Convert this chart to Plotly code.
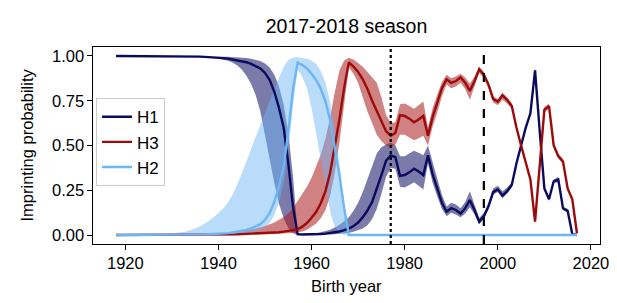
import plotly.graph_objects as go

years = list(range(1918, 2018))

h1 = ([1.0] * 13 +
      [0.999, 0.999, 0.998, 0.998, 0.997, 0.996, 0.995, 0.994, 0.992, 0.99,      # 1931-1940
       0.988, 0.985, 0.981, 0.977, 0.972, 0.965, 0.956, 0.945, 0.93, 0.905,      # 1941-1950
       0.865, 0.80, 0.71, 0.60, 0.40, 0.16, 0.005, 0.003, 0.003, 0.004,          # 1951-1960
       0.005, 0.006, 0.008, 0.011, 0.015, 0.02, 0.027, 0.036, 0.05, 0.07,        # 1961-1970
       0.10, 0.137, 0.185, 0.255, 0.335, 0.415, 0.445, 0.435, 0.33, 0.335,      # 1971-1980
       0.35, 0.37, 0.355, 0.335, 0.445, 0.34, 0.26, 0.18, 0.13, 0.15,            # 1981-1990
       0.14, 0.12, 0.15, 0.195, 0.14, 0.075, 0.105, 0.16, 0.24, 0.255,           # 1991-2000
       0.22, 0.245, 0.28, 0.40, 0.50, 0.60, 0.68, 0.92, 0.58, 0.26,              # 2001-2010
       0.20, 0.30, 0.31, 0.15, 0.135, 0.005, 0.0])                               # 2011-2017
h1_lo = ([1.0] * 13 +
         [0.999, 0.999, 0.998, 0.998, 0.997, 0.995, 0.993, 0.991, 0.988, 0.985,
          0.98, 0.973, 0.963, 0.948, 0.925, 0.89, 0.845, 0.78, 0.69, 0.57,
          0.43, 0.29, 0.175, 0.095, 0.04, 0.012, 0.0, 0.0005, 0.0005, 0.0008,
          0.001, 0.0015, 0.002, 0.003, 0.004, 0.006, 0.009, 0.013, 0.018, 0.025,
          0.036, 0.055, 0.09, 0.145, 0.23, 0.325, 0.375, 0.37, 0.27, 0.265,
          0.28, 0.295, 0.275, 0.255, 0.40, 0.29, 0.215, 0.145, 0.105, 0.125,
          0.115, 0.10, 0.12, 0.155, 0.115, 0.06, 0.09, 0.145, 0.225, 0.24,
          0.205, 0.23, 0.265, 0.39, 0.49, 0.59, 0.67, 0.905, 0.57, 0.25,
          0.19, 0.29, 0.295, 0.14, 0.125, 0.0, 0.0])
h1_hi = ([1.0] * 13 +
         [0.999, 0.999, 0.998, 0.998, 0.998, 0.998, 0.998, 0.998, 0.997, 0.997,
          0.996, 0.995, 0.994, 0.993, 0.991, 0.989, 0.985, 0.98, 0.972, 0.958,
          0.935, 0.895, 0.83, 0.73, 0.57, 0.33, 0.012, 0.006, 0.007, 0.009,
          0.012, 0.016, 0.022, 0.03, 0.042, 0.057, 0.077, 0.10, 0.135, 0.18,
          0.24, 0.31, 0.385, 0.455, 0.49, 0.505, 0.515, 0.50, 0.44, 0.44,
          0.455, 0.47, 0.46, 0.445, 0.50, 0.40, 0.315, 0.225, 0.16, 0.18,
          0.17, 0.15, 0.185, 0.245, 0.17, 0.095, 0.125, 0.18, 0.26, 0.275,
          0.245, 0.265, 0.295, 0.41, 0.51, 0.61, 0.69, 0.935, 0.59, 0.27,
          0.21, 0.31, 0.325, 0.16, 0.145, 0.01, 0.0])

h3 = ([0.0] * 18 +
      [0.001, 0.001, 0.0015, 0.002, 0.002,                                         # 1936-1940
       0.0025, 0.003, 0.0035, 0.004, 0.005, 0.006, 0.007, 0.008, 0.009, 0.01,    # 1941-1950
       0.012, 0.014, 0.016, 0.019, 0.022, 0.026, 0.032, 0.047, 0.067, 0.096,     # 1951-1960
       0.13, 0.179, 0.247, 0.35, 0.495, 0.65, 0.823, 0.964, 0.94, 0.91,          # 1961-1970
       0.87, 0.815, 0.75, 0.695, 0.64, 0.58, 0.555, 0.57, 0.67, 0.665,           # 1971-1980
       0.65, 0.63, 0.645, 0.665, 0.555, 0.66, 0.74, 0.82, 0.87, 0.85,            # 1981-1990
       0.86, 0.88, 0.85, 0.805, 0.86, 0.925, 0.895, 0.84, 0.76, 0.745,           # 1991-2000
       0.78, 0.755, 0.72, 0.60, 0.50, 0.40, 0.31, 0.075, 0.40, 0.70,             # 2001-2010
       0.72, 0.50, 0.44, 0.41, 0.26, 0.20, 0.01])                                # 2011-2017
h3_lo = ([0.0] * 18 +
         [0.0005, 0.0005, 0.0008, 0.001, 0.001,
          0.0012, 0.0014, 0.0016, 0.0018, 0.002, 0.0025, 0.003, 0.0035, 0.004, 0.004,
          0.005, 0.006, 0.007, 0.008, 0.01, 0.012, 0.015, 0.02, 0.03, 0.045,
          0.065, 0.095, 0.14, 0.22, 0.35, 0.52, 0.73, 0.935, 0.90, 0.85,
          0.77, 0.69, 0.625, 0.56, 0.525, 0.50, 0.49, 0.505, 0.56, 0.56,
          0.545, 0.53, 0.54, 0.555, 0.50, 0.605, 0.685, 0.775, 0.84, 0.82,
          0.83, 0.85, 0.815, 0.755, 0.83, 0.905, 0.875, 0.82, 0.74, 0.725,
          0.755, 0.735, 0.705, 0.59, 0.49, 0.39, 0.30, 0.065, 0.39, 0.685,
          0.705, 0.49, 0.43, 0.40, 0.25, 0.19, 0.0])
h3_hi = ([0.0] * 18 +
         [0.002, 0.003, 0.004, 0.005, 0.006,
          0.008, 0.01, 0.013, 0.016, 0.02, 0.025, 0.031, 0.037, 0.043, 0.05,
          0.06, 0.07, 0.085, 0.10, 0.12, 0.15, 0.19, 0.23, 0.27, 0.32,
          0.38, 0.45, 0.54, 0.66, 0.80, 0.92, 0.975, 0.99, 0.98, 0.96,
          0.94, 0.91, 0.88, 0.85, 0.77, 0.67, 0.625, 0.63, 0.73, 0.735,
          0.72, 0.705, 0.725, 0.745, 0.60, 0.71, 0.785, 0.855, 0.895, 0.875,
          0.885, 0.90, 0.88, 0.845, 0.885, 0.94, 0.91, 0.855, 0.775, 0.76,
          0.795, 0.77, 0.735, 0.61, 0.51, 0.41, 0.32, 0.09, 0.41, 0.715,
          0.735, 0.51, 0.455, 0.425, 0.27, 0.21, 0.02])

h2 = ([0.0] * 12 +
      [0.0005, 0.0007, 0.001, 0.0013, 0.0017, 0.002, 0.003, 0.0035, 0.0045, 0.0055,  # 1930-1939
       0.007, 0.0085, 0.011, 0.014, 0.018, 0.023, 0.029, 0.037, 0.047, 0.061,        # 1940-1949
       0.085, 0.123, 0.186, 0.274, 0.381, 0.578, 0.814, 0.963, 0.95, 0.93,           # 1950-1959
       0.90, 0.865, 0.815, 0.745, 0.639, 0.49, 0.33, 0.15, 0.0] +                    # 1960-1968
      [0.0] * 49)
h2_lo = ([0.0] * 12 +
         [0.0002, 0.0003, 0.0004, 0.0005, 0.0007, 0.0008, 0.001, 0.0013, 0.0016, 0.002,
          0.002, 0.003, 0.004, 0.005, 0.007, 0.009, 0.012, 0.016, 0.022, 0.03,
          0.044, 0.068, 0.11, 0.18, 0.29, 0.47, 0.72, 0.925, 0.885, 0.82,
          0.71, 0.57, 0.42, 0.27, 0.13, 0.045, 0.012, 0.0, 0.0] +
         [0.0] * 49)
h2_hi = ([0.0] * 8 +
         [0.002, 0.003, 0.004, 0.006,
          0.008, 0.011, 0.015, 0.02, 0.027, 0.036, 0.048, 0.062, 0.08, 0.10,
          0.122, 0.148, 0.18, 0.225, 0.28, 0.34, 0.41, 0.48, 0.55, 0.62,
          0.685, 0.75, 0.815, 0.88, 0.94, 0.978, 0.99, 0.993, 0.99, 0.985,
          0.975, 0.955, 0.915, 0.85, 0.74, 0.58, 0.39, 0.17, 0.0] +
         [0.0] * 49)

ref_dotted = 1977
ref_dashed = 1997
x_ticks = [1920, 1940, 1960, 1980, 2000, 2020]
y_ticks = [0.0, 0.25, 0.5, 0.75, 1.0]

for arr in (h1, h1_lo, h1_hi, h3, h3_lo, h3_hi, h2, h2_lo, h2_hi):
    assert len(arr) == len(years), len(arr)

series = [
    ("H1", h1, h1_lo, h1_hi, "#0b0b5e", "rgba(14,14,100,0.55)"),
    ("H3", h3, h3_lo, h3_hi, "#9c0a0a", "rgba(170,25,25,0.55)"),
    ("H2", h2, h2_lo, h2_hi, "#6cb6f5", "rgba(108,182,245,0.48)"),
]

FONT = "Liberation Sans, Arial, Helvetica, sans-serif"

fig = go.Figure()
for name, y, lo, hi, lc, fc in series:
    fig.add_trace(go.Scatter(
        x=years + years[::-1], y=hi + lo[::-1], fill="toself", fillcolor=fc,
        line=dict(width=0), mode="lines", hoverinfo="skip", showlegend=False))
for name, y, lo, hi, lc, fc in series:
    fig.add_trace(go.Scatter(x=years, y=y, mode="lines", name=name,
                             line=dict(color=lc, width=2.4)))

fig.add_vline(x=ref_dotted, line=dict(color="black", width=2.2, dash="dot"))
fig.add_vline(x=ref_dashed, line=dict(color="black", width=2.2, dash="dash"))

axis_common = dict(showline=True, mirror=True, linecolor="black", linewidth=1.2,
                   ticks="outside", ticklen=4.5, tickwidth=1.2, tickcolor="black",
                   showgrid=False, zeroline=False,
                   tickfont=dict(family=FONT, size=16.5, color="black"))

fig.update_layout(
    width=617, height=303,
    margin=dict(l=85, r=25, t=39, b=67),
    paper_bgcolor="white", plot_bgcolor="white",
    font=dict(family=FONT, color="black"),
    title=dict(text="2017-2018 season", x=0.5, xref="paper", xanchor="center",
               y=1 - 18 / 303, yref="container", yanchor="middle",
               font=dict(family=FONT, size=19.5, color="black")),
    xaxis=dict(range=[1913.05, 2021.95], tickvals=x_ticks, **axis_common),
    yaxis=dict(range=[-0.05, 1.05], tickvals=y_ticks, tickformat=".2f", **axis_common),
    legend=dict(x=0.006, y=0.74, xanchor="left", yanchor="top",
                bgcolor="rgba(255,255,255,0.85)", bordercolor="#cccccc", borderwidth=1,
                font=dict(family=FONT, size=17, color="black"), tracegroupgap=0),
    annotations=[
        dict(text="Birth year", xref="paper", yref="paper", x=0.5, y=-0.215,
             xanchor="center", yanchor="middle", showarrow=False,
             font=dict(family=FONT, size=16.5, color="black")),
        dict(text="Imprinting probability", xref="paper", yref="paper", x=0, y=0.5,
             xshift=-67, xanchor="center", yanchor="middle", textangle=-90,
             showarrow=False, font=dict(family=FONT, size=16.5, color="black")),
    ],
)

fig.write_html("out.html")
